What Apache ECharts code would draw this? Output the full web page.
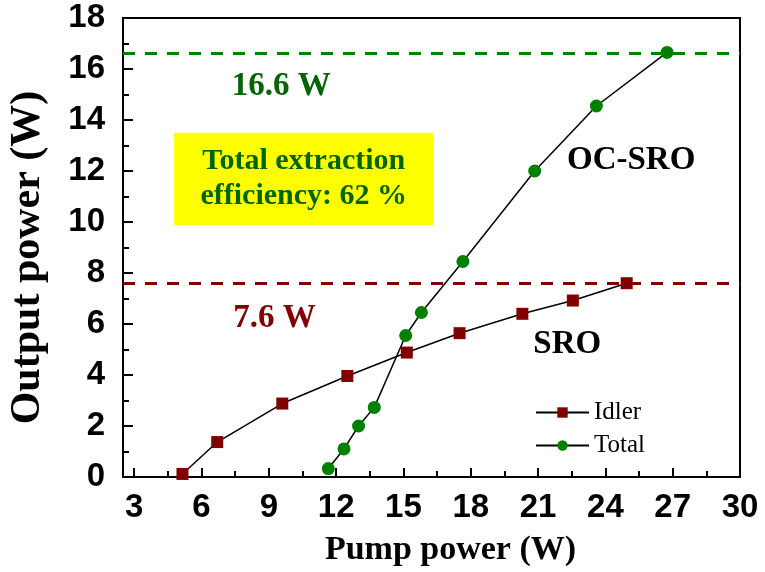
<!DOCTYPE html>
<html>
<head>
<meta charset="utf-8">
<script src="https://cdn.jsdelivr.net/npm/echarts@6/dist/echarts.min.js"></script>
<style>
  html, body { margin: 0; padding: 0; background: #fff; }
  #chart { width: 765px; height: 572px; }
</style>
</head>
<body>
<div id="chart"></div>
<script>
// data
const idlerPump = [5.15, 6.7, 9.6, 12.5, 15.15, 17.5, 20.3, 22.55, 24.95]
const idlerPower = [0.12, 1.37, 2.88, 3.96, 4.88, 5.64, 6.4, 6.92, 7.6]
const totalPump = [11.65, 12.35, 13.0, 13.7, 15.1, 15.8, 17.65, 20.85, 23.6, 26.75]
const totalPower = [0.33, 1.1, 2.0, 2.73, 5.55, 6.45, 8.45, 12.0, 14.55, 16.65]
const xLabels = [3, 6, 9, 12, 15, 18, 21, 24, 27, 30]
const xMinorTicks = [4.5, 7.5, 10.5, 13.5, 16.5, 19.5, 22.5, 25.5, 28.5]
const totalMax = 16.6
const idlerMax = 7.6

const serif = 'Liberation Serif'
const sans = 'Liberation Sans'
const green = '#008000'
const darkGreen = '#006400'
const maroon = '#800000'

const zip = (xs, ys) => xs.map((x, i) => [x, ys[i]])

const myChart = echarts.init(document.getElementById('chart'))

const option = {
  animation: false,
  grid: {
    left: 123,
    right: 25,
    top: 18,
    bottom: 95,
    outerBoundsMode: 'none',
    containLabel: false,
    show: true,
    borderColor: '#000',
    borderWidth: 2
  },
  legend: {
    orient: 'vertical',
    left: 530,
    top: 395,
    itemWidth: 53,
    itemHeight: 13,
    itemGap: 8,
    textStyle: { fontFamily: serif, fontSize: 25, color: '#000' },
    data: ['Idler', 'Total']
  },
  xAxis: [
    {
      type: 'value',
      min: 2.5,
      max: 30,
      name: 'Pump power (W)',
      nameLocation: 'middle',
      nameGap: 56,
      nameTextStyle: {
        fontFamily: serif, fontWeight: 'bold', fontSize: 34, color: '#000',
        padding: [0, 0, 0, 38]
      },
      splitLine: { show: false },
      axisLine: { show: true, lineStyle: { color: '#000', width: 2 } },
      axisTick: { show: true, inside: true, length: 9, customValues: xLabels, lineStyle: { color: '#000', width: 2 } },
      axisLabel: {
        customValues: xLabels,
        margin: 14,
        fontFamily: sans, fontWeight: 'bold', fontSize: 33, color: '#000'
      }
    },
    {
      // minor ticks only
      type: 'value',
      min: 2.5,
      max: 30,
      position: 'bottom',
      splitLine: { show: false },
      axisLine: { show: false },
      axisTick: { show: true, inside: true, length: 6, customValues: xMinorTicks, lineStyle: { color: '#000', width: 2 } },
      axisLabel: { show: false }
    }
  ],
  yAxis: {
    type: 'value',
    min: 0,
    max: 18,
    interval: 2,
    name: 'Output power (W)',
    nameLocation: 'middle',
    nameGap: 74,
    nameTextStyle: {
      fontFamily: serif, fontWeight: 'bold', fontSize: 42, color: '#000',
      padding: [0, 20, 0, 0]
    },
    splitLine: { show: false },
    axisLine: { show: true, lineStyle: { color: '#000', width: 2 } },
    axisTick: { show: true, inside: true, length: 10, lineStyle: { color: '#000', width: 2 } },
    minorTick: { show: true, splitNumber: 2, length: 6, lineStyle: { color: '#000', width: 2 } },
    axisLabel: {
      margin: 18,
      fontFamily: sans, fontWeight: 'bold', fontSize: 33, color: '#000'
    }
  },
  series: [
    {
      name: 'Idler',
      type: 'line',
      data: zip(idlerPump, idlerPower),
      symbol: 'rect',
      symbolSize: 12,
      itemStyle: { color: maroon },
      lineStyle: { color: '#000', width: 1.5 },
      z: 3,
      markLine: {
        silent: true,
        symbol: 'none',
        label: { show: false },
        lineStyle: { color: maroon, width: 3, type: [12, 10] },
        data: [{ yAxis: idlerMax }]
      }
    },
    {
      name: 'Total',
      type: 'line',
      data: zip(totalPump, totalPower),
      symbol: 'circle',
      symbolSize: 13,
      itemStyle: { color: green },
      lineStyle: { color: '#000', width: 1.5 },
      z: 3,
      markLine: {
        silent: true,
        symbol: 'none',
        label: { show: false },
        lineStyle: { color: green, width: 3, type: [12, 10] },
        data: [{ yAxis: totalMax }]
      },
      markArea: {
        silent: true,
        itemStyle: { color: '#ffff00', opacity: 1 },
        label: {
          show: true,
          position: 'inside',
          formatter: 'Total extraction\nefficiency: 62 %',
          fontFamily: serif, fontWeight: 'bold', fontSize: 30, lineHeight: 35,
          color: darkGreen, align: 'center'
        },
        data: [[{ coord: [4.78, 13.5] }, { coord: [16.33, 9.88] }]]
      }
    }
  ]
}
myChart.setOption(option, true)

// text annotations, placed in data coordinates
const notes = [
  { text: '16.6 W', at: [9.55, 15.33], color: darkGreen },
  { text: '7.6 W', at: [9.25, 6.2], color: maroon },
  { text: 'OC-SRO', at: [25.15, 12.43], color: '#000' },
  { text: 'SRO', at: [22.3, 5.2], color: '#000' }
]
myChart.setOption({
  graphic: notes.map(n => {
    const p = myChart.convertToPixel({ xAxisIndex: 0, yAxisIndex: 0 }, n.at)
    return {
      type: 'text',
      x: p[0],
      y: p[1],
      z: 10,
      style: {
        text: n.text,
        fill: n.color,
        font: 'bold 33px "' + serif + '"',
        align: 'center',
        verticalAlign: 'middle'
      }
    }
  })
})
</script>
</body>
</html>
